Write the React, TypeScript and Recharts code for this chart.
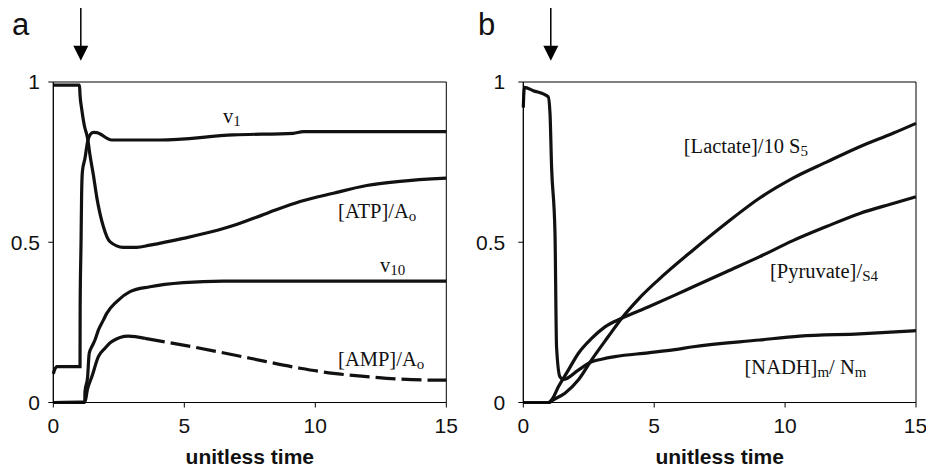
import React from "react";
import {
  LineChart,
  Line,
  XAxis,
  YAxis,
  ReferenceArea,
  ReferenceLine,
  ReferenceDot,
} from "recharts";

// tick values shared by both panels
const X_TICKS = [0, 5, 10, 15];
const Y_TICKS = [0, 0.5, 1];

// panel a: unitless time / value pairs
const ATP_T = [0, 1.0, 1.02, 1.08, 1.18, 1.31, 1.4, 1.53, 1.66, 1.91, 2.16, 2.67, 3.18, 3.69, 4.96, 6.3, 6.87, 8.14, 9.42, 10.69, 11.96, 13.23, 15];
const ATP_V = [0.99, 0.99, 0.96, 0.918, 0.866, 0.824, 0.772, 0.71, 0.64, 0.549, 0.502, 0.484, 0.484, 0.491, 0.512, 0.538, 0.552, 0.59, 0.627, 0.653, 0.677, 0.69, 0.7];

const V1_T = [0, 0.13, 1.02, 1.025, 1.06, 1.08, 1.11, 1.21, 1.31, 1.4, 1.53, 1.66, 2.23, 4.07, 6.87, 9.16, 9.54, 15];
const V1_V = [0.09, 0.112, 0.112, 0.3, 0.507, 0.647, 0.72, 0.762, 0.814, 0.835, 0.843, 0.842, 0.819, 0.819, 0.835, 0.84, 0.845, 0.845];

const V10_T = [0, 1.2, 1.21, 1.31, 1.37, 1.47, 1.59, 1.72, 1.91, 2.04, 2.42, 2.93, 3.69, 4.96, 6.49, 15];
const V10_V = [0, 0, 0.034, 0.08, 0.153, 0.174, 0.195, 0.226, 0.257, 0.278, 0.315, 0.346, 0.361, 0.374, 0.379, 0.379];

const AMP_T = [0, 1.21, 1.3, 1.47, 1.72, 1.97, 2.23, 2.86, 3.5, 4.96, 6.24, 7.51, 9.42, 10.69, 11.96, 13.23, 14.5, 15];
const AMP_V = [0, 0.002, 0.04, 0.08, 0.143, 0.169, 0.19, 0.207, 0.2, 0.179, 0.159, 0.138, 0.107, 0.091, 0.081, 0.073, 0.07, 0.07];

// panel b
const NADH_T = [0, 0.04, 0.38, 0.95, 1.02, 1.08, 1.21, 1.27, 1.4, 1.53, 2.1, 2.61, 2.99, 3.5, 4.77, 5.79, 6.49, 9.03, 10.56, 12.85, 15];
const NADH_V = [0.92, 0.983, 0.973, 0.954, 0.902, 0.736, 0.53, 0.174, 0.08, 0.072, 0.101, 0.127, 0.135, 0.143, 0.155, 0.165, 0.174, 0.195, 0.207, 0.214, 0.224];

const PYR_T = [0, 0.95, 1.1, 1.34, 1.72, 2.1, 2.61, 3.12, 3.76, 4.77, 5.79, 6.49, 7.76, 9.03, 10.3, 11.58, 12.85, 14.12, 15];
const PYR_V = [0, 0, 0.01, 0.049, 0.101, 0.153, 0.2, 0.236, 0.263, 0.298, 0.335, 0.361, 0.408, 0.455, 0.505, 0.549, 0.59, 0.621, 0.642];

const LAC_T = [0, 1.0, 1.08, 1.59, 2.1, 2.61, 3.24, 3.76, 4.39, 5.15, 6.49, 7.76, 9.03, 10.3, 11.58, 12.85, 14.12, 15];
const LAC_V = [0, 0, 0.005, 0.029, 0.07, 0.133, 0.205, 0.263, 0.322, 0.382, 0.476, 0.56, 0.638, 0.7, 0.75, 0.798, 0.84, 0.871];

// time of the perturbation (arrow)
const PULSE_T = 1.05;

const toPoints = (ts: number[], vs: number[]) => ts.map((t, i) => ({ t, v: vs[i] }));

const atp = toPoints(ATP_T, ATP_V);
const v1 = toPoints(V1_T, V1_V);
const v10 = toPoints(V10_T, V10_V);
const amp = toPoints(AMP_T, AMP_V);
// excel draws the dense rising part of the dashed curve as solid
const ampHead = amp.filter((p) => p.t <= 3.5);
const ampTail = amp.filter((p) => p.t >= 3.5);
const nadh = toPoints(NADH_T, NADH_V);
const pyr = toPoints(PYR_T, PYR_V);
const lac = toPoints(LAC_T, LAC_V);

const SANS = '"Liberation Sans", Arial, sans-serif';
const SERIF = '"Liberation Serif", "Times New Roman", serif';
const INK = "#111";

// arrow from segment start (top) down to segment end (tip)
const Arrow = (p: any) => {
  const { x1, y1, x2, y2 } = p;
  return (
    <g>
      <line x1={x1} y1={y1} x2={x2} y2={y2 - 14} stroke="#000" strokeWidth={1.5} />
      <polygon points={`${x2 - 7.5},${y2 - 15} ${x2 + 7.5},${y2 - 15} ${x2},${y2}`} fill="#000" />
    </g>
  );
};

// text with subscripts: parts are [text, isSub]
const note = (parts: [string, boolean][]) => (p: any) => {
  let sub = false;
  return (
    <text x={p.cx} y={p.cy} fontFamily={SERIF} fontSize={20.5} fill="#111">
      {parts.map(([s, isSub], i) => {
        const dy = isSub && !sub ? 3 : !isSub && sub ? -3 : 0;
        sub = isSub;
        return (
          <tspan key={i} dy={dy} fontSize={isSub ? 15 : 20.5}>
            {s}
          </tspan>
        );
      })}
    </text>
  );
};

const lineProps = {
  type: "monotone" as const,
  dataKey: "v",
  stroke: INK,
  strokeWidth: 3.2,
  dot: false,
  activeDot: false,
  isAnimationActive: false,
};

function Panel({ yWidth, yGap, right, children }: any) {
  return (
    <LineChart width={463} height={473} margin={{ top: 82, right, left: 0, bottom: 30.5 }}>
      <XAxis
        type="number"
        dataKey="t"
        domain={[0, 15]}
        ticks={X_TICKS}
        height={40}
        tickSize={5}
        tickMargin={10.5}
        stroke="#000"
        tick={{ fill: "#111", fontSize: 21, fontFamily: SANS }}
        label={{
          value: "unitless time",
          position: "bottom",
          offset: 7,
          style: { fontFamily: SANS, fontSize: 21, fontWeight: "bold", fill: "#111" },
        }}
      />
      <YAxis
        type="number"
        domain={[0, 1]}
        ticks={Y_TICKS}
        width={yWidth}
        tickSize={5}
        tickMargin={yGap}
        stroke="#000"
        tick={{ fill: "#111", fontSize: 21, fontFamily: SANS }}
      />
      <ReferenceArea x1={0} x2={15} y1={0} y2={1} fill="none" stroke="#000" strokeWidth={1} />
      <ReferenceLine
        segment={[
          { x: PULSE_T, y: 1.231 },
          { x: PULSE_T, y: 1.066 },
        ]}
        ifOverflow="visible"
        shape={Arrow}
      />
      {children}
    </LineChart>
  );
}

export default function App() {
  const letter = {
    position: "absolute" as const,
    top: 9,
    fontFamily: SANS,
    fontSize: 31,
    lineHeight: 1,
    color: "#111",
  };
  return (
    <div style={{ position: "absolute", left: 0, top: 0, width: 926, height: 473, background: "#fff" }}>
      <div style={{ display: "flex" }}>
        <Panel yWidth={53.3} yGap={8.3} right={16.7}>
          <Line {...lineProps} data={atp} />
          <Line {...lineProps} data={v1} />
          <Line {...lineProps} data={v10} />
          <Line {...lineProps} data={ampHead} />
          <Line {...lineProps} data={ampTail} strokeDasharray="20 6" />
          <ReferenceDot x={6.48} y={0.872} r={0} ifOverflow="visible" shape={note([["v", false], ["1", true]])} />
          <ReferenceDot x={10.87} y={0.576} r={0} ifOverflow="visible" shape={note([["[ATP]/A", false], ["o", true]])} />
          <ReferenceDot x={12.47} y={0.407} r={0} ifOverflow="visible" shape={note([["v", false], ["10", true]])} />
          <ReferenceDot x={10.87} y={0.114} r={0} ifOverflow="visible" shape={note([["[AMP]/A", false], ["o", true]])} />
        </Panel>
        <Panel yWidth={60.3} yGap={13} right={10}>
          <Line {...lineProps} data={nadh} />
          <Line {...lineProps} data={pyr} />
          <Line {...lineProps} data={lac} />
          <ReferenceDot x={6.13} y={0.78} r={0} ifOverflow="visible" shape={note([["[Lactate]/10 S", false], ["5", true]])} />
          <ReferenceDot x={9.42} y={0.39} r={0} ifOverflow="visible" shape={note([["[Pyruvate]/", false], ["S4", true]])} />
          <ReferenceDot
            x={8.45}
            y={0.088}
            r={0}
            ifOverflow="visible"
            shape={note([["[NADH]", false], ["m", true], ["/ N", false], ["m", true]])}
          />
        </Panel>
      </div>
      <div style={{ ...letter, left: 12 }}>a</div>
      <div style={{ ...letter, left: 478 }}>b</div>
    </div>
  );
}
